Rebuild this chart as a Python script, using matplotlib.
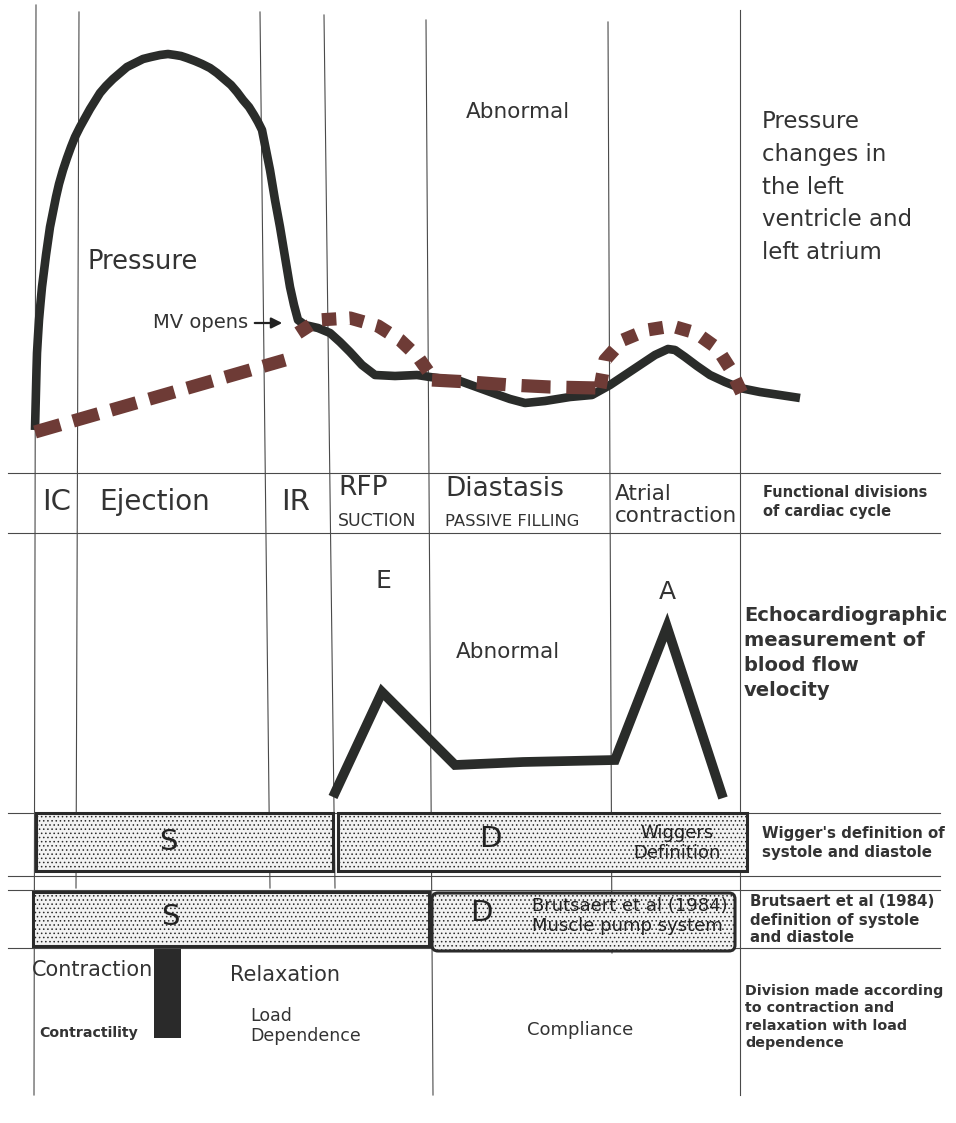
import matplotlib
matplotlib.use("Agg")
import matplotlib.pyplot as plt
from matplotlib.patches import Rectangle, FancyBboxPatch

plt.rcParams['font.family'] = ['DejaVu Sans']
plt.rcParams['hatch.color'] = '#a8a8a8'
plt.rcParams['hatch.linewidth'] = 0.6

lv_x = [35, 35.5, 36, 36.5, 37, 38, 39, 40.5, 42, 44, 46, 48, 50, 53, 56, 59, 63, 67, 71, 75,
        80, 85, 90, 95, 100, 106, 113, 120, 127, 135, 143, 151, 160, 168, 175, 181, 187, 195,
        202, 210, 217, 224, 231, 237, 243, 249, 254, 258, 262, 264, 266, 268, 270, 275, 280,
        285, 290, 294, 298, 305, 318, 330, 340, 350, 362, 375, 395, 417, 430, 460, 493, 510,
        525, 545, 570, 592, 610, 625, 640, 655, 668, 675, 685, 697, 710, 725, 740, 760, 780, 800]
lv_y = [430, 410, 390, 370, 353, 336, 320, 303, 287, 271, 255, 241, 227, 212, 197, 184, 170, 158, 147, 137,
        127, 118, 109, 101, 93, 86, 79, 73, 67, 63, 59, 57, 55, 54, 55, 56, 58, 61,
        64, 68, 73, 79, 85, 92, 100, 107, 115, 122, 130, 140, 150, 160, 170, 200, 227,
        257, 287, 305, 320, 325, 328, 333, 342, 352, 365, 375, 376, 375, 377, 381, 393, 399,
        403, 401, 397, 395, 385, 375, 365, 355, 349, 350, 357, 366, 375, 382, 388, 392, 395, 398]

# left atrial pressure (dashed), four pieces
la_early_x = [35, 285]
la_early_y = [432, 360]
la_rfp_x = [298, 318, 350, 378, 400, 418, 432]
la_rfp_y = [333, 320, 318, 326, 340, 357, 377]
la_diast_x = [432, 470, 510, 550, 598]
la_diast_y = [380, 382, 385, 387, 388]
la_atrial_x = [600, 605, 623, 647, 672, 696, 717, 731, 744]
la_atrial_y = [388, 360, 340, 330, 326, 333, 348, 370, 398]

# doppler mitral flow velocity (E and A waves)
vel_x = [333, 382, 455, 523, 615, 667, 723]
vel_y = [797, 692, 765, 762, 760, 627, 798]

# phase boundaries (slightly skewed in the scan)
vline_x_top = [36, 79, 260, 324, 426, 608, 740]
vline_x_bot = [34, 76, 270, 335, 433, 612, 740]
vline_y_top = [5, 12, 12, 15, 20, 22, 10]
vline_y_bot = [1095, 888, 888, 888, 1095, 953, 1095]

hline_y = [473, 533, 813, 876, 890, 948]

# definition bars: (label, x0, y0, x1, y1)
wiggers_bars = [("S", 36, 813, 333, 871), ("D", 338, 813, 747, 871)]
brutsaert_bars = [("S", 33, 892, 429, 946), ("D", 432, 893, 735, 951)]

ink = '#333333'
curve = '#2a2c2a'
brown = '#6e3b36'

fig = plt.figure(figsize=(9.56, 11.23), dpi=100)
ax = fig.add_axes([0, 0, 1, 1])
ax.set_xlim(0, 956)
ax.set_ylim(1123, 0)
ax.axis('off')

for x0, x1, y0, y1 in zip(vline_x_top, vline_x_bot, vline_y_top, vline_y_bot):
    ax.plot([x0, x1], [y0, y1], color='#4a4a4a', lw=0.8, zorder=1)
for y in hline_y:
    ax.plot([8, 940], [y, y], color='#4a4a4a', lw=0.8, zorder=1)

# pressure curves
ax.plot(lv_x, lv_y, color=curve, lw=6.2, solid_joinstyle='round', solid_capstyle='butt', zorder=3)
ax.plot(la_early_x, la_early_y, color=brown, lw=9.5, dashes=(2.0, 1.0), zorder=4)
ax.plot(la_rfp_x, la_rfp_y, color=brown, lw=9.5, dashes=(1.1, 1.0), zorder=4)
ax.plot(la_diast_x, la_diast_y, color=brown, lw=9.5, dashes=(2.2, 1.2), zorder=4)
ax.plot(la_atrial_x, la_atrial_y, color=brown, lw=9.5, dashes=(1.1, 1.0), zorder=4)

ax.annotate("", xy=(285, 323), xytext=(252, 323),
            arrowprops=dict(arrowstyle='-|>', color='#222222', lw=1.6, mutation_scale=16), zorder=5)
ax.text(248, 323, "MV opens", ha='right', va='center', fontsize=14, color=ink)
ax.text(88, 262, "Pressure", ha='left', va='center', fontsize=18.5, color=ink)
ax.text(518, 112, "Abnormal", ha='center', va='center', fontsize=15.5, color=ink)
ax.text(762, 187, "Pressure\nchanges in\nthe left\nventricle and\nleft atrium",
        ha='left', va='center', fontsize=16.5, color=ink, linespacing=1.55)

# functional divisions row
ax.text(57, 502, "IC", ha='center', va='center', fontsize=21, color=ink)
ax.text(155, 502, "Ejection", ha='center', va='center', fontsize=20, color=ink)
ax.text(296, 502, "IR", ha='center', va='center', fontsize=21, color=ink)
ax.text(338, 488, "RFP", ha='left', va='center', fontsize=19, color=ink)
ax.text(338, 521, "SUCTION", ha='left', va='center', fontsize=12.5, color=ink)
ax.text(445, 489, "Diastasis", ha='left', va='center', fontsize=19, color=ink)
ax.text(445, 522, "PASSIVE FILLING", ha='left', va='center', fontsize=11.8, color=ink)
ax.text(615, 494, "Atrial", ha='left', va='center', fontsize=15.5, color=ink)
ax.text(615, 516, "contraction", ha='left', va='center', fontsize=15.5, color=ink)
ax.text(763, 502, "Functional divisions\nof cardiac cycle", ha='left', va='center',
        fontsize=10.5, fontweight='bold', color=ink, linespacing=1.35)

# flow velocity
ax.plot(vel_x, vel_y, color=curve, lw=7, solid_joinstyle='miter', solid_capstyle='butt', zorder=3)
ax.text(383, 581, "E", ha='center', va='center', fontsize=18, color=ink)
ax.text(667, 592, "A", ha='center', va='center', fontsize=18, color=ink)
ax.text(508, 652, "Abnormal", ha='center', va='center', fontsize=15.5, color=ink)
ax.text(744, 653, "Echocardiographic\nmeasurement of\nblood flow\nvelocity", ha='left', va='center',
        fontsize=14, fontweight='bold', color=ink, linespacing=1.4)

# definition bars
for lab, x0, y0, x1, y1 in wiggers_bars:
    ax.add_patch(Rectangle((x0, y0), x1 - x0, y1 - y0, facecolor='#f2f2f2', edgecolor='#2a2a2a',
                           lw=2.2, hatch='....', zorder=6))
for lab, x0, y0, x1, y1 in brutsaert_bars:
    if lab == "S":
        ax.add_patch(Rectangle((x0, y0), x1 - x0, y1 - y0, facecolor='#f2f2f2', edgecolor='#2a2a2a',
                               lw=2.2, hatch='....', zorder=6))
    else:
        ax.add_patch(FancyBboxPatch((x0, y0), x1 - x0, y1 - y0, boxstyle='round,pad=0,rounding_size=6',
                                    facecolor='#f2f2f2', edgecolor='#2a2a2a', lw=2.2, hatch='....', zorder=6))

ax.text(168, 842, "S", ha='center', va='center', fontsize=21, color='#222222', zorder=7)
ax.text(490, 839, "D", ha='center', va='center', fontsize=21, color='#222222', zorder=7)
ax.text(677, 843, "Wiggers\nDefinition", ha='center', va='center', fontsize=13, color='#222222',
        linespacing=1.2, zorder=7)
ax.text(170, 917, "S", ha='center', va='center', fontsize=21, color='#222222', zorder=7)
ax.text(481, 913, "D", ha='center', va='center', fontsize=21, color='#222222', zorder=7)
ax.text(532, 916, "Brutsaert et al (1984)\nMuscle pump system", ha='left', va='center',
        fontsize=13, color='#222222', linespacing=1.15, zorder=7)

ax.text(762, 843, "Wigger's definition of\nsystole and diastole", ha='left', va='center',
        fontsize=10.8, fontweight='bold', color=ink, linespacing=1.3)
ax.text(750, 920, "Brutsaert et al (1984)\ndefinition of systole\nand diastole", ha='left', va='center',
        fontsize=10.8, fontweight='bold', color=ink, linespacing=1.25)

# contraction / relaxation
ax.add_patch(Rectangle((154, 949), 27, 89, facecolor='#2a2a2a', edgecolor='none', zorder=6))
ax.text(32, 970, "Contraction", ha='left', va='center', fontsize=15, color=ink, zorder=5)
ax.text(230, 975, "Relaxation", ha='left', va='center', fontsize=15, color=ink)
ax.text(39, 1033, "Contractility", ha='left', va='center', fontsize=10.2, fontweight='bold', color=ink)
ax.text(250, 1026, "Load\nDependence", ha='left', va='center', fontsize=12.5, color=ink, linespacing=1.15)
ax.text(580, 1030, "Compliance", ha='center', va='center', fontsize=13, color=ink)
ax.text(745, 1017, "Division made according\nto contraction and\nrelaxation with load\ndependence",
        ha='left', va='center', fontsize=10.3, fontweight='bold', color=ink, linespacing=1.3)

fig.savefig("out.png", dpi=100)
